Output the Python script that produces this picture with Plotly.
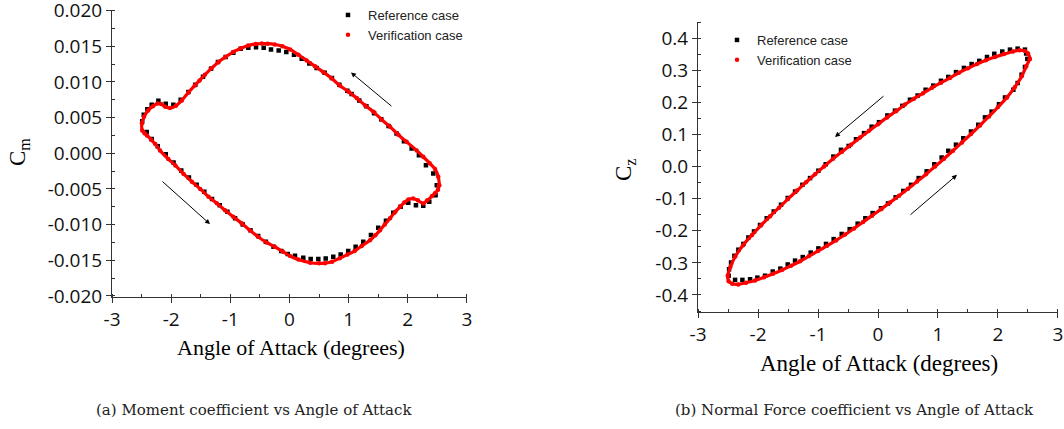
import plotly.graph_objects as go

# ---------------- data: (a) Moment coefficient ----------------
cm_ref_alpha = [2.49, 2.431, 2.307, 2.188, 2.065, 1.935, 1.81, 1.675, 1.551, 1.43, 1.30, 1.18, 1.05,
                0.977, 0.842, 0.718, 0.595, 0.459, 0.335, 0.206, 0.076, -0.054, -0.183, -0.313, -0.436,
                -0.566, -0.696, -0.825, -0.95, -1.079, -1.21, -1.327, -1.462, -1.592, -1.71, -1.84,
                -1.964, -2.092, -2.217, -2.33, -2.403, -2.464, -2.49,
                -2.414, -2.33, -2.228, -2.092, -1.96, -1.83, -1.70, -1.57, -1.44, -1.31, -1.18, -1.05,
                -0.92, -0.79, -0.66, -0.53, -0.40, -0.27, -0.14, -0.03, 0.093, 0.233, 0.358, 0.487,
                0.612, 0.74, 0.865, 0.993, 1.118, 1.247, 1.377, 1.5, 1.631, 1.754, 1.879, 2.008,
                2.138, 2.261, 2.363, 2.47]
cm_ref_value = [-0.0045, -0.00284, -0.00168, -0.00028, 0.00065, 0.00168, 0.00275, 0.00382, 0.00476,
                0.0056, 0.0066, 0.0074, 0.0083, 0.00876, 0.0096, 0.01053, 0.01128, 0.01193, 0.01259,
                0.01324, 0.0138, 0.01417, 0.0144, 0.01455, 0.01478, 0.01487, 0.01478, 0.01464,
                0.01408, 0.01347, 0.01277, 0.01184, 0.01072, 0.0096, 0.00857, 0.0075, 0.00681,
                0.00695, 0.00737, 0.00681, 0.00615, 0.00541, 0.0045,
                0.00298, 0.0020, 0.00098, -0.00014, -0.0013, -0.0024, -0.0034, -0.0044, -0.0054,
                -0.0064, -0.0073, -0.0082, -0.0091, -0.0100, -0.0108, -0.0116, -0.0124, -0.0131,
                -0.0137, -0.0141, -0.01436, -0.01464, -0.01483, -0.01483, -0.01473, -0.0145,
                -0.01417, -0.01371, -0.0131, -0.0124, -0.01147, -0.01044, -0.00946, -0.00834,
                -0.0075, -0.00695, -0.00727, -0.00737, -0.00681, -0.00587]

cm_ver_alpha = [2.53, 2.515, 2.46, 2.37, 2.26, 2.15, 1.98, 1.84, 1.70, 1.56, 1.42, 1.28, 1.14, 1.00,
                0.85, 0.71, 0.57, 0.43, 0.29, 0.15, 0.01, -0.12, -0.25, -0.37, -0.47, -0.57, -0.70,
                -0.82, -0.95, -1.08, -1.20, -1.32, -1.43, -1.52, -1.60, -1.71, -1.82, -1.92, -2.02,
                -2.10, -2.17, -2.23, -2.31, -2.39, -2.46, -2.495, -2.49, -2.45, -2.41, -2.34, -2.27,
                -2.19, -2.05, -1.93, -1.79, -1.65, -1.51, -1.37, -1.23, -1.09, -0.95, -0.81, -0.67,
                -0.53, -0.39, -0.25, -0.11, 0.01, 0.15, 0.35, 0.50, 0.60, 0.72, 0.85, 0.98, 1.10,
                1.22, 1.36, 1.45, 1.53, 1.61, 1.70, 1.79, 1.87, 1.94, 2.01, 2.09, 2.17, 2.26, 2.33,
                2.41, 2.46, 2.51, 2.53]
cm_ver_value = [-0.0045, -0.0033, -0.0022, -0.0014, -0.0005, 0.0004, 0.0016, 0.0026, 0.0037, 0.0047,
                0.0058, 0.0067, 0.0077, 0.0086, 0.0095, 0.0105, 0.0114, 0.0122, 0.0130, 0.0138,
                0.01455, 0.0150, 0.01524, 0.01535, 0.01538, 0.01532, 0.0151, 0.0147, 0.0142, 0.0135,
                0.0128, 0.0119, 0.0110, 0.0102, 0.0095, 0.0085, 0.0074, 0.00665, 0.00634, 0.0065,
                0.0069, 0.00698, 0.0066, 0.0060, 0.0051, 0.0042, 0.0032, 0.0028, 0.0025, 0.0019,
                0.0013, 0.0004, -0.0008, -0.0017, -0.0029, -0.0040, -0.0050, -0.0061, -0.0070,
                -0.0080, -0.0089, -0.0098, -0.0108, -0.0117, -0.0125, -0.0131, -0.0138, -0.0144,
                -0.0149, -0.01534, -0.01543, -0.0154, -0.0152, -0.0147, -0.0142, -0.0137, -0.0130,
                -0.0122, -0.0115, -0.0108, -0.0100, -0.0091, -0.0082, -0.0075, -0.0069, -0.00648,
                -0.00634, -0.0066, -0.00704, -0.0066, -0.0060, -0.0056, -0.0051, -0.0045]

# ---------------- data: (b) Normal force coefficient ----------------
cz_ref_alpha = [2.49, 2.47, 2.45, 2.328, 2.2, 2.072, 1.939, 1.817, 1.689, 1.561, 1.433, 1.3, 1.172,
                1.05, 0.922, 0.794, 0.661, 0.533, 0.406, 0.283, 0.156, 0.017, -0.106, -0.233,
                -0.367, -0.489, -0.617, -0.744, -0.872, -0.994, -1.133, -1.261, -1.383, -1.505,
                -1.617, -1.738, -1.855, -1.967, -2.067, -2.161, -2.244, -2.328, -2.394, -2.45,
                -2.483, -2.49, -2.383, -2.261, -2.133, -2.011, -1.883, -1.755, -1.628, -1.505,
                -1.383, -1.255, -1.122, -0.994, -0.867, -0.739, -0.605, -0.472, -0.339, -0.211,
                -0.089, 0.05, 0.167, 0.294, 0.422, 0.55, 0.678, 0.811, 0.939, 1.061, 1.172, 1.3,
                1.422, 1.55, 1.672, 1.783, 1.894, 2.017, 2.117, 2.256, 2.328, 2.394, 2.45]
cz_ref_value = [0.335, 0.352, 0.364, 0.367, 0.364, 0.358, 0.351, 0.341, 0.329, 0.319, 0.307, 0.294,
                0.279, 0.267, 0.252, 0.239, 0.221, 0.208, 0.189, 0.174, 0.159, 0.138, 0.124, 0.104,
                0.085, 0.064, 0.052, 0.031, 0.007, -0.013, -0.036, -0.057, -0.078, -0.098, -0.119,
                -0.14, -0.161, -0.182, -0.202, -0.221, -0.241, -0.259, -0.278, -0.299, -0.32,
                -0.34, -0.353, -0.353, -0.351, -0.346, -0.34, -0.327, -0.318, -0.305, -0.293,
                -0.282, -0.268, -0.255, -0.241, -0.226, -0.21, -0.195, -0.178, -0.161, -0.145,
                -0.13, -0.115, -0.096, -0.076, -0.057, -0.036, -0.015, 0.007, 0.028, 0.049, 0.068,
                0.088, 0.109, 0.13, 0.153, 0.171, 0.194, 0.215, 0.239, 0.26, 0.286, 0.31]

cz_ver_alpha = [2.53, 2.50, 2.45, 2.36, 2.25, 2.10, 1.95, 1.80, 1.65, 1.50, 1.35, 1.20, 1.05, 0.90,
                0.75, 0.60, 0.45, 0.30, 0.15, 0.00, -0.15, -0.30, -0.45, -0.60, -0.75, -0.90,
                -1.05, -1.20, -1.35, -1.50, -1.65, -1.80, -1.95, -2.10, -2.25, -2.38, -2.46,
                -2.505, -2.49, -2.43, -2.33, -2.20, -2.05, -1.90, -1.75, -1.60, -1.45, -1.30,
                -1.15, -1.00, -0.85, -0.70, -0.55, -0.40, -0.25, -0.10, 0.05, 0.20, 0.35, 0.50,
                0.65, 0.80, 0.95, 1.10, 1.25, 1.40, 1.55, 1.70, 1.85, 2.00, 2.15, 2.28, 2.40,
                2.47, 2.53]
cz_ver_value = [0.335, 0.352, 0.360, 0.362, 0.358, 0.350, 0.341, 0.331, 0.319, 0.306, 0.292, 0.276,
                0.261, 0.245, 0.228, 0.211, 0.193, 0.172, 0.153, 0.132, 0.111, 0.090, 0.068, 0.046,
                0.024, 0.000, -0.024, -0.049, -0.075, -0.101, -0.128, -0.155, -0.183, -0.213,
                -0.245, -0.280, -0.312, -0.340, -0.357, -0.365, -0.367, -0.362, -0.355, -0.345,
                -0.334, -0.322, -0.309, -0.295, -0.279, -0.263, -0.247, -0.230, -0.212, -0.193,
                -0.173, -0.153, -0.133, -0.112, -0.091, -0.069, -0.047, -0.024, 0.000, 0.024,
                0.049, 0.075, 0.101, 0.128, 0.156, 0.185, 0.215, 0.247, 0.282, 0.312, 0.335]

# ---------------- tick labels ----------------
x_tick_vals = [-3, -2, -1, 0, 1, 2, 3]
x_tick_text = ["-3", "-2", "-1", "0", "1", "2", "3"]
cm_tick_vals = [-0.020, -0.015, -0.010, -0.005, 0.0, 0.005, 0.010, 0.015, 0.020]
cm_tick_text = ["-0.020", "-0.015", "-0.010", "-0.005", "0.000", "0.005", "0.010", "0.015", "0.020"]
cz_tick_vals = [-0.4, -0.3, -0.2, -0.1, 0.0, 0.1, 0.2, 0.3, 0.4]
cz_tick_text = ["-0.4", "-0.3", "-0.2", "-0.1", "0.0", "0.1", "0.2", "0.3", "0.4"]

W, H = 1064, 429
RED = "#ff0000"
AX = "#333333"

fig = go.Figure()

# left panel
fig.add_trace(go.Scatter(x=cm_ref_alpha, y=cm_ref_value, mode="markers", name="Reference case",
                         marker=dict(symbol="square", size=4.5, color="black"),
                         xaxis="x", yaxis="y", legend="legend"))
fig.add_trace(go.Scatter(x=cm_ver_alpha, y=cm_ver_value, mode="lines", showlegend=False,
                         line=dict(color=RED, width=3.2, shape="spline", smoothing=0.6),
                         xaxis="x", yaxis="y"))
fig.add_trace(go.Scatter(x=cm_ver_alpha, y=cm_ver_value, mode="markers", name="Verification case",
                         marker=dict(symbol="circle", size=4.5, color=RED),
                         xaxis="x", yaxis="y", legend="legend"))
# right panel
fig.add_trace(go.Scatter(x=cz_ref_alpha, y=cz_ref_value, mode="markers", name="Reference case",
                         marker=dict(symbol="square", size=4.5, color="black"),
                         xaxis="x2", yaxis="y2", legend="legend2"))
fig.add_trace(go.Scatter(x=cz_ver_alpha, y=cz_ver_value, mode="lines", showlegend=False,
                         line=dict(color=RED, width=3.2, shape="spline", smoothing=0.6),
                         xaxis="x2", yaxis="y2"))
fig.add_trace(go.Scatter(x=cz_ver_alpha, y=cz_ver_value, mode="markers", name="Verification case",
                         marker=dict(symbol="circle", size=4.5, color=RED),
                         xaxis="x2", yaxis="y2", legend="legend2"))

tickfont = dict(family="'Open Sans', sans-serif", size=19, color="#111111")
axcommon = dict(showline=True, linecolor=AX, linewidth=1, showgrid=False, zeroline=False,
                ticks="outside", ticklen=5, tickwidth=1, tickcolor=AX, tickfont=tickfont,
                mirror=False, fixedrange=True, ticklabeloverflow="allow", automargin=False)

fig.update_layout(
    template="none",
    width=W, height=H, autosize=False,
    margin=dict(l=0, r=0, t=0, b=0, autoexpand=False),
    paper_bgcolor="white", plot_bgcolor="white",
    xaxis=dict(domain=[112 / W, 467 / W], range=[-3.001, 3.001], anchor="y",
               tickvals=x_tick_vals, ticktext=x_tick_text,
               minor=dict(ticks="inside", ticklen=3, dtick=0.5, tick0=0, tickcolor=AX),
               **axcommon),
    yaxis=dict(domain=[1 - 296.7 / H, 1 - 9.8 / H], range=[-0.0201, 0.0201], anchor="x",
               tickvals=cm_tick_vals, ticktext=cm_tick_text,
               minor=dict(ticks="inside", ticklen=3, dtick=0.0025, tick0=0, tickcolor=AX),
               **axcommon),
    xaxis2=dict(domain=[698 / W, 1058 / W], range=[-3.001, 3.001], anchor="y2",
                tickvals=x_tick_vals, ticktext=x_tick_text,
                minor=dict(ticks="inside", ticklen=3, dtick=0.5, tick0=0, tickcolor=AX),
                **axcommon),
    yaxis2=dict(domain=[1 - 312 / H, 1 - 22 / H], range=[-0.453, 0.45], anchor="x2",
                tickvals=cz_tick_vals, ticktext=cz_tick_text,
                minor=dict(ticks="inside", ticklen=3, dtick=0.05, tick0=0, tickcolor=AX),
                **axcommon),
    legend=dict(x=328 / W, y=1.0, xanchor="left", yanchor="top",
                bgcolor="rgba(0,0,0,0)", tracegroupgap=0, borderwidth=0,
                font=dict(family="Liberation Sans, Arial, sans-serif", size=13, color="#222222")),
    legend2=dict(x=717 / W, y=1 - 25 / H, xanchor="left", yanchor="top",
                 bgcolor="rgba(0,0,0,0)", tracegroupgap=0, borderwidth=0,
                 font=dict(family="Liberation Sans, Arial, sans-serif", size=13, color="#222222")),
)

serif = "Liberation Serif, Times New Roman, serif"
ann = []
# axis titles
ann.append(dict(text="Angle of Attack (degrees)", x=291 / W, y=1 - 347 / H, xref="paper", yref="paper",
                showarrow=False, xanchor="center", yanchor="middle",
                font=dict(family=serif, size=22, color="black")))
ann.append(dict(text="Angle of Attack (degrees)", x=879 / W, y=1 - 363 / H, xref="paper", yref="paper",
                showarrow=False, xanchor="center", yanchor="middle",
                font=dict(family=serif, size=23, color="black")))
ann.append(dict(text="C<sub>m</sub>", x=19 / W, y=1 - 152 / H, xref="paper", yref="paper",
                showarrow=False, textangle=-90, xanchor="center", yanchor="middle",
                font=dict(family=serif, size=23, color="black")))
ann.append(dict(text="C<sub>z</sub>", x=625 / W, y=1 - 170 / H, xref="paper", yref="paper",
                showarrow=False, textangle=-90, xanchor="center", yanchor="middle",
                font=dict(family=serif, size=23, color="black")))
# captions
ann.append(dict(text="(a) Moment coefficient vs Angle of Attack", x=254 / W, y=1 - 410 / H,
                xref="paper", yref="paper", showarrow=False, xanchor="center", yanchor="middle",
                font=dict(family="DejaVu Serif, serif", size=15, color="#222222")))
ann.append(dict(text="(b) Normal Force coefficient vs Angle of Attack", x=854 / W, y=1 - 410 / H,
                xref="paper", yref="paper", showarrow=False, xanchor="center", yanchor="middle",
                font=dict(family="DejaVu Serif, serif", size=15, color="#222222")))
# direction arrows
arrow = dict(showarrow=True, text="", arrowhead=2, arrowsize=1, arrowwidth=1, arrowcolor="black")
ann.append(dict(x=1.039, y=0.01133, ax=1.749, ay=0.00643, xref="x", yref="y", axref="x", ayref="y", **arrow))
ann.append(dict(x=-1.344, y=-0.00993, ax=-2.172, ay=-0.00378, xref="x", yref="y", axref="x", ayref="y", **arrow))
ann.append(dict(x=-0.717, y=0.092, ax=0.117, ay=0.223, xref="x2", yref="y2", axref="x2", ayref="y2", **arrow))
ann.append(dict(x=1.317, y=-0.026, ax=0.517, ay=-0.154, xref="x2", yref="y2", axref="x2", ayref="y2", **arrow))
fig.update_layout(annotations=ann)

fig.write_html("out.html")
